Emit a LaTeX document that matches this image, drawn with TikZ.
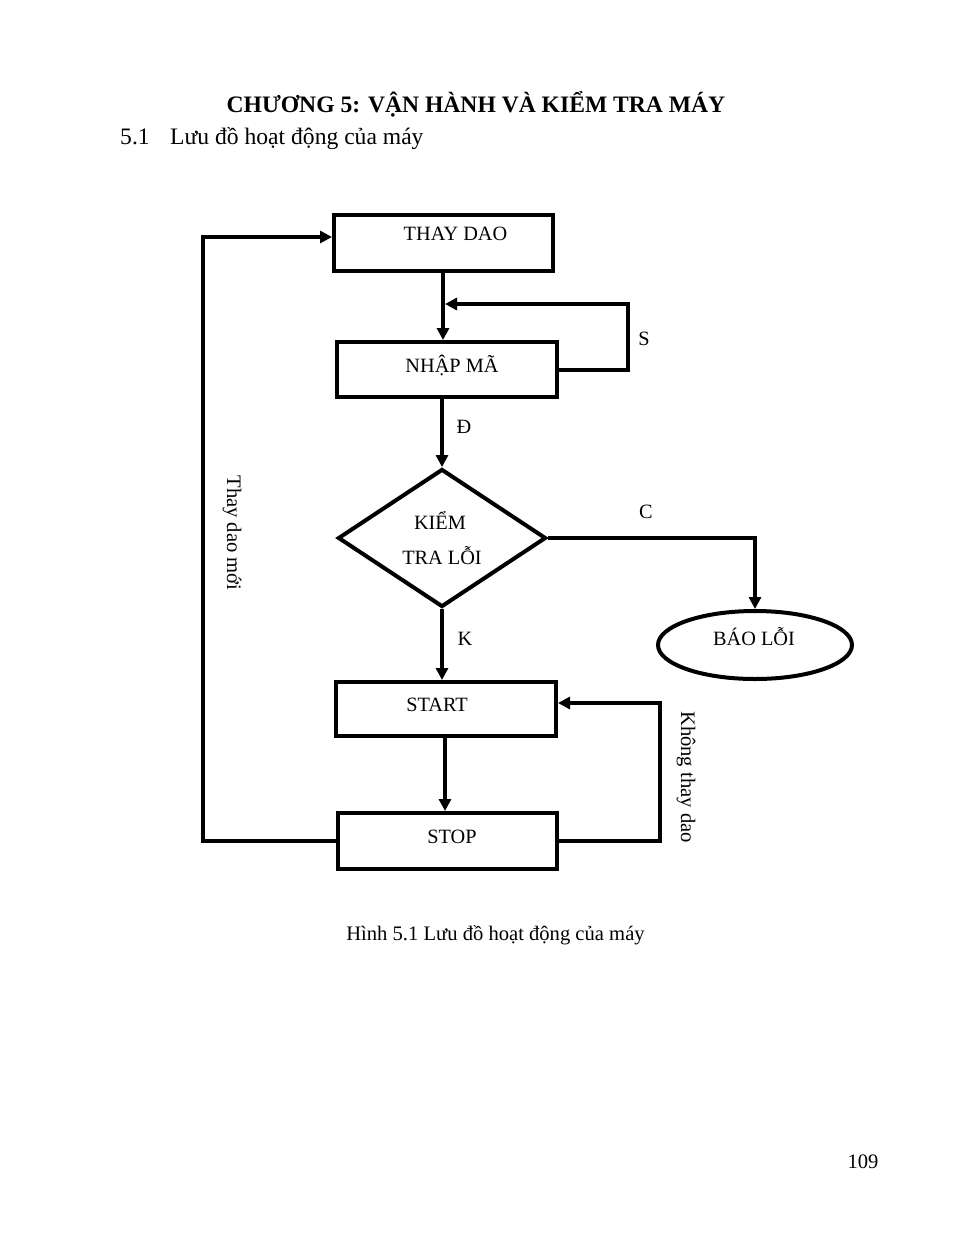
\documentclass[tikz,border=0pt]{standalone}
\usepackage{fontspec}
\setmainfont{Liberation Serif}
\usetikzlibrary{shapes.geometric,arrows.meta,calc}
\begin{document}
\begin{tikzpicture}[x=1pt,y=-1pt,
  flow/.style={line width=4pt},
  arr/.style={flow,-{Triangle[length=12pt,width=12pt]}},
  box/.style={draw,line width=4pt,inner sep=0pt},
  txt/.style={font=\fontsize{20.3}{24}\selectfont,inner sep=0pt,anchor=base},
  body/.style={font=\fontsize{23.6}{28}\selectfont,inner sep=0pt,anchor=base},
  captxt/.style={font=\fontsize{20.6}{24}\selectfont,inner sep=0pt,anchor=base},
]
\useasboundingbox (0,0) rectangle (969,1254);
% page text
\node[body,font=\fontsize{23.6}{28}\selectfont\bfseries] (title) at (476,112) {CHƯƠNG 5: VẬN HÀNH VÀ KIỂM TRA MÁY};
\node[body,anchor=base west] (secnum) at (120,144) {5.1};
\node[body,anchor=base west] (sec) at (170,144) {Lưu đồ hoạt động của máy};
\node[captxt] (caption) at (495.5,940) {Hình 5.1 Lưu đồ hoạt động của máy};
\node[captxt] (page) at (863,1168) {109};

% shapes
\node[box,minimum width=219pt,minimum height=56pt] (thay) at (443.5,243) {};
\node[box,minimum width=220pt,minimum height=55pt] (nhap) at (447,369.5) {};
\node[box,diamond,minimum width=208pt,minimum height=138pt] (dia) at (442,538) {};
\node[box,ellipse,minimum width=194pt,minimum height=68pt] (ell) at (755,645) {};
\node[box,minimum width=220pt,minimum height=54pt] (start) at (446,709) {};
\node[box,minimum width=219pt,minimum height=56pt] (stop) at (447.5,841) {};

% texts in shapes
\node[txt] (tthay) at (455.5,240) {THAY DAO};
\node[txt] (tnhap) at (452,372.5) {NHẬP MÃ};
\node[txt] (tkiem) at (440,529) {KIỂM};
\node[txt] (ttra) at (442,564) {TRA LỖI};
\node[txt] (tbao) at (754,645) {BÁO LỖI};
\node[txt] (tstart) at (437,711) {START};
\node[txt] (tstop) at (452,843) {STOP};

% labels
\node[txt] (lS) at (644,345) {S};
\node[txt] (lD) at (464,433) {Đ};
\node[txt] (lC) at (646,518) {C};
\node[txt] (lK) at (465,645) {K};
\node[captxt,anchor=center,rotate=-90] (lnew) at (232,533) {Thay dao mới};
\node[captxt,anchor=center,rotate=-90] (lkeep) at (686,777) {Không thay dao};

% coordinates
\coordinate (axis) at (443,0);
\coordinate (axis2) at (445,0);
\coordinate (sR) at (628,304);
\coordinate (sJ) at (445,304);
\coordinate (kR) at (660,703);
\coordinate (nL) at (203,237);

% connectors
\draw[arr] (thay.south -| axis) -- (nhap.north -| axis);
\draw[arr] (nhap.east) -- (sR |- nhap.east) -- (sR) -- (sJ);
\draw[arr] (nhap.south -| dia.north) -- (dia.north);
\draw[arr] (dia.east) -| (ell.north);
\draw[arr] (dia.south) -- (dia.south |- start.north);
\draw[arr] (start.south -| axis2) -- (stop.north -| axis2);
\draw[arr] (stop.east) -- (kR |- stop.east) -- (kR) -- (start.east |- kR);
\draw[arr] (stop.west) -- (nL |- stop.west) -- (nL) -- (thay.west |- nL);
\end{tikzpicture}
\end{document}
